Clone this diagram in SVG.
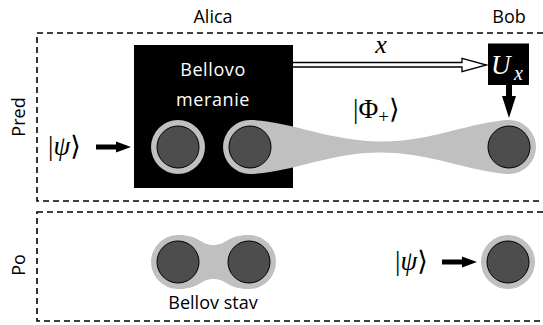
<svg xmlns="http://www.w3.org/2000/svg" width="543" height="325" viewBox="0 0 543 325">
<style>
.lbl{font-family:"Open Sans","Noto Sans",sans-serif;font-size:18px;fill:#000}
.wl{font-family:"Open Sans","Noto Sans",sans-serif;font-size:18px;letter-spacing:0.6px;fill:#fff}
.math{font-family:"Liberation Serif","DejaVu Serif",serif;font-size:27px;fill:#000}
.dash{fill:none;stroke:#000;stroke-width:1.6;stroke-dasharray:6 4}
.ring{fill:#c0c0c0}
.core{fill:#4d4d4d;stroke:#000;stroke-width:1}
</style>
<rect width="543" height="325" fill="#fff"/>
<g id="frames">
<rect class="dash" x="37" y="33" width="512" height="168"/>
<rect class="dash" x="37" y="212" width="512" height="109"/>
</g>
<g id="labels">
<text class="lbl" x="213" y="23" text-anchor="middle">Alica</text>
<text class="lbl" x="509" y="23" text-anchor="middle">Bob</text>
<text class="lbl" transform="translate(25,117) rotate(-90)" text-anchor="middle">Pred</text>
<text class="lbl" transform="translate(25,265) rotate(-90)" text-anchor="middle">Po</text>
</g>
<g id="bell-measurement">
<rect x="134" y="45" width="159" height="143" fill="#000"/>
<text class="wl" x="213" y="76" text-anchor="middle">Bellovo</text>
<text class="wl" x="213" y="106" text-anchor="middle">meranie</text>
</g>
<g id="entanglement">
<path class="ring" d="M250,120 C290,121 330,141 380,141.5 C430,142 470,122 509,120 L509,174 C470,172 430,152.5 380,152.5 C330,152.5 290,173 250,174 Z"/>
</g>
<g id="qubit-alice-1">
<circle class="ring" cx="178" cy="147" r="27"/>
<circle class="core" cx="178" cy="147" r="21"/>
</g>
<g id="qubit-alice-2">
<circle class="ring" cx="250" cy="147" r="27"/>
<circle class="core" cx="250" cy="147" r="21"/>
</g>
<g id="qubit-bob">
<circle class="ring" cx="509" cy="147" r="27"/>
<circle class="core" cx="509" cy="147" r="21"/>
</g>
<g id="ux">
<rect x="488" y="43.5" width="41" height="41.5" fill="#000"/>
<text font-family="Liberation Serif,DejaVu Serif,serif" font-style="italic" font-size="27" fill="#fff" x="491" y="74">U</text>
<text font-family="Liberation Serif,DejaVu Serif,serif" font-style="italic" font-size="20" fill="#fff" x="514" y="80">x</text>
</g>
<g id="connectors">
<path d="M293,62.5 L462,62.5 L462,58.3 L486.5,65 L462,71.7 L462,67 L293,67" fill="#fff" stroke="#000" stroke-width="1.3"/>
<text font-family="Liberation Serif,DejaVu Serif,serif" font-style="italic" font-size="26" x="381" y="53" text-anchor="middle">x</text>
<path d="M506,85 L512,85 L512,96 L516,96 L509,118 L502,96 L506,96 Z" fill="#000"/>
<path d="M96,144.5 L116,144.5 L116,141.5 L131,147 L116,152.5 L116,149.5 L96,149.5 Z" fill="#000"/>
<path d="M442,259.5 L462,259.5 L462,256.5 L477,262 L462,267.5 L462,264.5 L442,264.5 Z" fill="#000"/>
</g>
<g id="math-labels">
<text class="math" x="48" y="155">|<tspan font-style="italic">ψ</tspan>⟩</text>
<text class="math" x="395" y="270">|<tspan font-style="italic">ψ</tspan>⟩</text>
<text class="math" x="353" y="118">|Φ<tspan font-size="19" dy="5">+</tspan><tspan dy="-5">⟩</tspan></text>
</g>
<g id="bell-state">
<path class="ring" d="M178,235 C200,235 200,245 213.5,245 C227,245 227,235 249,235 L249,289 C227,289 227,279 213.5,279 C200,279 200,289 178,289 Z"/>
<circle class="ring" cx="178" cy="262" r="27"/>
<circle class="ring" cx="249" cy="262" r="27"/>
<circle class="core" cx="178" cy="262" r="21"/>
<circle class="core" cx="249" cy="262" r="21"/>
<text class="lbl" x="213" y="309" text-anchor="middle">Bellov stav</text>
</g>
<g id="qubit-bob-after">
<circle class="ring" cx="508" cy="262" r="27"/>
<circle class="core" cx="508" cy="262" r="21"/>
</g>
</svg>
